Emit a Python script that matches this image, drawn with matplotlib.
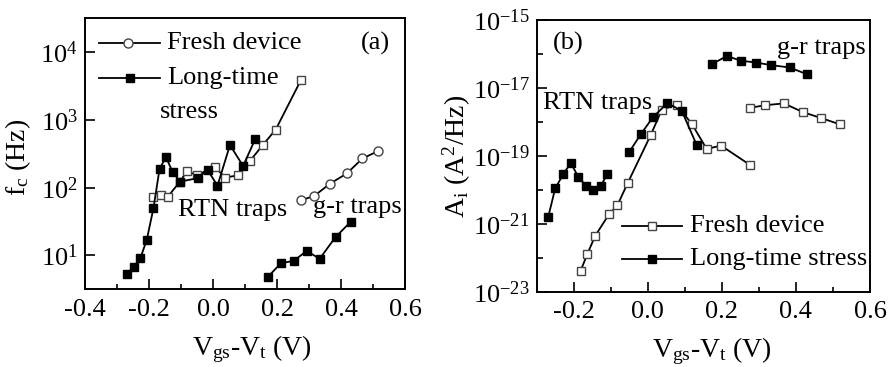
import numpy as np
import matplotlib
matplotlib.use("Agg")
import matplotlib.pyplot as plt
from matplotlib.ticker import FixedLocator, NullLocator, LogFormatterMathtext, NullFormatter

plt.rcParams['font.family'] = ['Liberation Serif', 'DejaVu Serif']
plt.rcParams['mathtext.fontset'] = 'custom'
plt.rcParams['mathtext.rm'] = 'Liberation Serif'
plt.rcParams['mathtext.it'] = 'Liberation Serif:italic'
plt.rcParams['axes.unicode_minus'] = False

""" Données panneau (a) : fréquence de coupure f_c """
# RTN traps, stressed device
a_stress_rtn_x = [-0.268, -0.248, -0.227, -0.207, -0.186, -0.167, -0.147, -0.126, -0.103,
                  -0.048, -0.017, 0.014, 0.053, 0.094, 0.132]
a_stress_rtn_y = [5.4, 6.8, 9.1, 17, 50, 190, 282, 170, 123, 138, 183, 107, 426, 209, 522]
# RTN traps, fresh device
a_fresh_rtn_x = [-0.186, -0.164, -0.142, -0.103, -0.082, -0.051, 0.007, 0.038, 0.077,
                 0.116, 0.156, 0.196, 0.275]
a_fresh_rtn_y = [74, 79, 73, 123, 174, 155, 200, 141, 152, 250, 429, 722, 3900]
# g-r traps
a_fresh_gr_x = [0.275, 0.317, 0.366, 0.418, 0.467, 0.517]
a_fresh_gr_y = [65, 76, 115, 162, 270, 349]
a_stress_gr_x = [0.171, 0.2125, 0.252, 0.293, 0.333, 0.383, 0.431]
a_stress_gr_y = [4.8, 7.7, 8.3, 11.7, 8.9, 18.7, 31.6]

""" Données panneau (b) : amplitude A_i """
b_stress_rtn1_x = [-0.269, -0.250, -0.228, -0.208, -0.188, -0.167, -0.147, -0.127, -0.109]
b_stress_rtn1_y = [1.55e-21, 1.1e-20, 2.9e-20, 6.2e-20, 2.45e-20, 1.3e-20, 9.8e-21, 1.3e-20, 2.9e-20]
b_stress_rtn2_x = [-0.050, -0.019, 0.0135, 0.053, 0.092, 0.132]
b_stress_rtn2_y = [1.3e-19, 4.3e-19, 1.35e-18, 3.6e-18, 2.1e-18, 2.1e-19]
b_fresh_rtn_x = [-0.181, -0.163, -0.142, -0.104, -0.082, -0.054, 0.008, 0.038, 0.078,
                 0.119, 0.159, 0.198, 0.276]
b_fresh_rtn_y = [4.2e-23, 1.3e-22, 4.4e-22, 1.95e-21, 3.5e-21, 1.6e-20, 4.1e-19, 2.3e-18,
                 3.2e-18, 8.7e-19, 1.6e-19, 2.0e-19, 5.4e-20]
b_stress_gr_x = [0.173, 0.2135, 0.252, 0.293, 0.332, 0.383, 0.431]
b_stress_gr_y = [5.0e-17, 8.7e-17, 6.3e-17, 5.6e-17, 4.7e-17, 4.0e-17, 2.5e-17]
b_fresh_gr_x = [0.2765, 0.317, 0.368, 0.418, 0.468, 0.518]
b_fresh_gr_y = [2.6e-18, 3.1e-18, 3.5e-18, 1.95e-18, 1.3e-18, 8.5e-19]

FS = 19
LFS = 20
lw = 1.3
open_sq = dict(color='k', lw=lw, marker='s', ms=6, mfc='white', mec='#444', mew=1.0)
open_ci = dict(color='k', lw=lw, marker='o', ms=6.5, mfc='white', mec='#444', mew=1.0)
fill_sq = dict(color='k', lw=lw, marker='s', ms=6, mfc='k', mec='k')

fig = plt.figure(figsize=(8.9, 3.67), dpi=100)
ax1 = fig.add_axes([0.0955, 0.2117, 0.3596, 0.7384])
ax2 = fig.add_axes([0.603, 0.2052, 0.3745, 0.7403])

# Panel (a)
ax1.plot(a_fresh_rtn_x, a_fresh_rtn_y, **open_sq)
ax1.plot(a_stress_rtn_x, a_stress_rtn_y, **fill_sq)
ax1.plot(a_fresh_gr_x, a_fresh_gr_y, **open_ci)
ax1.plot(a_stress_gr_x, a_stress_gr_y, **fill_sq)
ax1.set_yscale('log')
ax1.set_xlim(-0.4, 0.6)
ax1.set_ylim(10**0.5, 10**4.5)
ax1.yaxis.set_major_locator(FixedLocator([1e1, 1e2, 1e3, 1e4]))
ax1.yaxis.set_minor_locator(NullLocator())

# legend (a)
ax1.plot([0.044, 0.234], [0.909, 0.909], transform=ax1.transAxes, color='k', lw=lw)
ax1.plot([0.134], [0.909], transform=ax1.transAxes, **open_ci)
ax1.plot([0.044, 0.234], [0.780, 0.780], transform=ax1.transAxes, color='k', lw=lw)
ax1.plot([0.14], [0.780], transform=ax1.transAxes, **fill_sq)
ax1.text(0.256, 0.909, 'Fresh device', transform=ax1.transAxes, fontsize=FS, va='center')
ax1.text(0.256, 0.780, 'Long-time', transform=ax1.transAxes, fontsize=FS, va='center')
ax1.text(0.234, 0.654, 'stress', transform=ax1.transAxes, fontsize=FS, va='center')
ax1.text(0.909, 0.909, '(a)', transform=ax1.transAxes, fontsize=FS, va='center', ha='center')
ax1.text(0.4625, 0.293, 'RTN traps', transform=ax1.transAxes, fontsize=FS, va='center', ha='center')
ax1.text(0.85, 0.303, 'g-r traps', transform=ax1.transAxes, fontsize=FS, va='center', ha='center')
ax1.set_ylabel(r'f$_\mathregular{c}$ (Hz)', fontsize=LFS)
ax1.yaxis.set_label_coords(-0.1625, 0.488)

# Panel (b)
ax2.plot(b_fresh_rtn_x, b_fresh_rtn_y, **open_sq)
ax2.plot(b_stress_rtn1_x, b_stress_rtn1_y, **fill_sq)
ax2.plot(b_stress_rtn2_x, b_stress_rtn2_y, **fill_sq)
ax2.plot(b_fresh_gr_x, b_fresh_gr_y, **open_sq)
ax2.plot(b_stress_gr_x, b_stress_gr_y, **fill_sq)
ax2.set_yscale('log')
ax2.set_xlim(-0.3, 0.6)
ax2.set_ylim(1e-23, 1e-15)
ax2.yaxis.set_major_locator(FixedLocator([1e-23, 1e-21, 1e-19, 1e-17, 1e-15]))
ax2.yaxis.set_minor_locator(FixedLocator([1e-22, 1e-20, 1e-18, 1e-16]))
ax2.yaxis.set_minor_formatter(NullFormatter())

# legend (b)
ax2.plot([0.255, 0.435], [0.243, 0.243], transform=ax2.transAxes, color='k', lw=lw)
ax2.plot([0.345], [0.243], transform=ax2.transAxes, **open_sq)
ax2.plot([0.255, 0.435], [0.119, 0.119], transform=ax2.transAxes, color='k', lw=lw)
ax2.plot([0.345], [0.119], transform=ax2.transAxes, **fill_sq)
ax2.text(0.46, 0.243, 'Fresh device', transform=ax2.transAxes, fontsize=FS, va='center')
ax2.text(0.46, 0.119, 'Long-time stress', transform=ax2.transAxes, fontsize=FS, va='center')
ax2.text(0.094, 0.915, '(b)', transform=ax2.transAxes, fontsize=FS, va='center', ha='center')
ax2.text(0.182, 0.695, 'RTN traps', transform=ax2.transAxes, fontsize=FS, va='center', ha='center')
ax2.text(0.853, 0.897, 'g-r traps', transform=ax2.transAxes, fontsize=FS, va='center', ha='center')
ax2.set_ylabel(r'A$_\mathregular{i}$ (A$^\mathregular{2}$/Hz)', fontsize=LFS)
ax2.yaxis.set_label_coords(-0.191, 0.497)

for ax in (ax1, ax2):
    ax.xaxis.set_major_locator(FixedLocator([-0.4, -0.2, 0.0, 0.2, 0.4, 0.6]))
    ax.xaxis.set_minor_locator(FixedLocator([-0.3, -0.1, 0.1, 0.3, 0.5]))
    ax.xaxis.set_major_formatter(plt.FuncFormatter(lambda v, p: '%.1f' % v))
    ax.yaxis.set_major_formatter(LogFormatterMathtext())
    ax.tick_params(which='both', direction='in', top=False, right=False, labelsize=FS, width=1.2)
    ax.tick_params(axis='x', which='major', length=7, pad=7)
    ax.tick_params(axis='x', which='minor', length=3.5)
    ax.tick_params(axis='y', which='major', length=7, pad=5)
    ax.tick_params(axis='y', which='minor', length=4)
    for s in ax.spines.values():
        s.set_linewidth(1.4)
    ax.set_xlabel(r'V$_\mathregular{gs}$-V$_\mathregular{t}$ (V)', fontsize=LFS)

ax1.xaxis.set_label_coords(0.522, -0.161)
ax2.xaxis.set_label_coords(0.525, -0.159)
ax2.set_xticks([-0.2, 0.0, 0.2, 0.4, 0.6])

fig.savefig('out.png', dpi=100)
